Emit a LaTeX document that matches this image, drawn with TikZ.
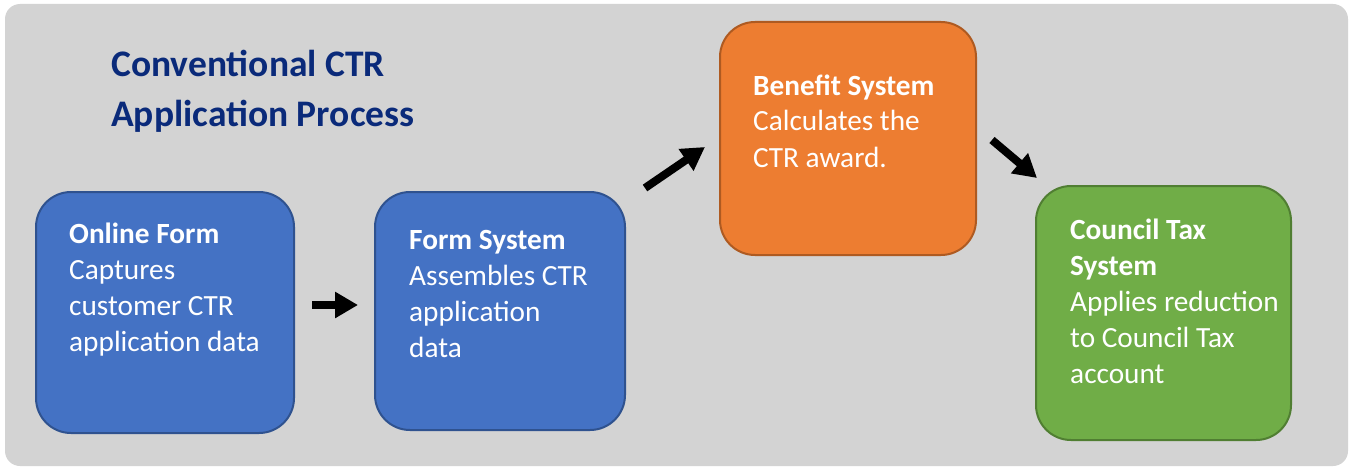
\documentclass[tikz,border=0pt]{standalone}
\usepackage{fontspec}
\setmainfont{Carlito}
\usetikzlibrary{arrows.meta}
\definecolor{bg}{RGB}{211,211,211}
\definecolor{titleblue}{RGB}{10,42,122}
\definecolor{bfill}{RGB}{68,114,196}
\definecolor{bline}{RGB}{47,82,143}
\definecolor{ofill}{RGB}{237,125,49}
\definecolor{oline}{RGB}{174,90,33}
\definecolor{gfill}{RGB}{112,173,71}
\definecolor{gline}{RGB}{80,126,50}
\tikzset{
  procbox/.style={draw, line width=2pt, rounded corners=35pt, inner sep=0pt, outer sep=0pt},
  boxtext/.style={anchor=base west, align=left, text=white, font=\fontsize{29.3}{36}\selectfont, inner sep=0pt},
  flowarrow/.style={line width=8pt, -{Triangle[length=23pt,width=25pt]}, shorten >=0pt},
}
\begin{document}
\begin{tikzpicture}[x=1pt,y=-1pt]
\useasboundingbox (0,0) rectangle (1351,468);
\fill[bg, rounded corners=15pt] (5,4) rectangle (1348,466);
% title (anchor base = last line)
\node[anchor=base west, align=left, text=titleblue, font=\fontsize{37.5}{51}\selectfont\bfseries, inner sep=0pt] (title) at (111,127) {Conventional CTR\\Application Process};
% boxes
\node[procbox, fill=bfill, draw=bline, minimum width=258pt, minimum height=241pt] (online) at (165,312.5) {};
\node[procbox, fill=bfill, draw=bline, minimum width=250pt, minimum height=238pt] (formsys) at (500,311) {};
\node[procbox, fill=ofill, draw=oline, minimum width=256pt, minimum height=233pt] (benefit) at (848,138.5) {};
\node[procbox, fill=gfill, draw=gline, minimum width=255pt, minimum height=254pt] (council) at (1163.5,313) {};
% texts (anchor base = last line)
\node[boxtext] (t1) at (69,351) {\textbf{Online Form}\\Captures\\customer CTR\\application data};
\node[boxtext] (t2) at (409,357) {\textbf{Form System}\\Assembles CTR\\application\\data};
\node[boxtext] (t3) at (753,167) {\textbf{Benefit System}\\Calculates the\\CTR award.};
\node[boxtext] (t4) at (1070,383) {\textbf{Council Tax}\\\textbf{System}\\Applies reduction\\to Council Tax\\account};
% arrows
\coordinate (a1s) at (312,305);
\coordinate (a1e) at (358,305);
\coordinate (a2s) at (645,188);
\coordinate (a2e) at (705,147);
\coordinate (a3s) at (992,140);
\coordinate (a3e) at (1037,178);
\draw[flowarrow] (a1s) -- (a1e);
\draw[flowarrow] (a2s) -- (a2e);
\draw[flowarrow] (a3s) -- (a3e);
\end{tikzpicture}
\end{document}
